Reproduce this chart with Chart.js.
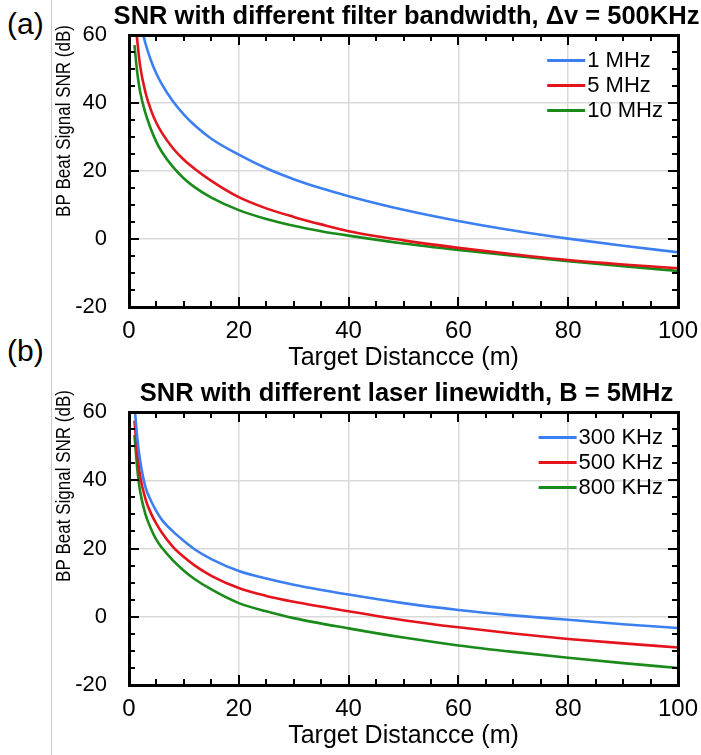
<!DOCTYPE html>
<html>
<head>
<meta charset="utf-8">
<script src="https://cdn.jsdelivr.net/npm/chart.js@4.4.1/dist/chart.umd.min.js"></script>
<style>
  html, body { margin: 0; padding: 0; background: #fff; }
  #wrap { position: relative; width: 701px; height: 755px; overflow: hidden; font-family: "Liberation Sans", Arial, sans-serif; }
  .vline { position: absolute; left: 51px; top: 0; width: 1px; height: 755px; background: #c9c9c9; }
  .panel { position: absolute; left: 7px; font-size: 30px; line-height: 1; color: #000; }
  canvas { position: absolute; left: 0; }
</style>
</head>
<body>
<div id="wrap">
  <div class="vline"></div>
  <div class="panel" style="top:9px">(a)</div>
  <div class="panel" style="top:336px">(b)</div>
  <canvas id="chartA" width="701" height="377" style="top:0"></canvas>
  <canvas id="chartB" width="701" height="378" style="top:377px"></canvas>
</div>
<script>
// ===============================
// DATOS (a): ancho de banda del filtro, Δv = 500KHz
// ===============================
const distA1  = [2.6, 3, 4, 5, 6, 8, 10, 12, 15, 20, 25, 30, 35, 40, 50, 60, 70, 80, 90, 100];
const snrA1   = [60, 57.5, 52.5, 48.6, 45.5, 40.5, 36.6, 33.4, 29.5, 24.8, 20.8, 17.6, 14.9, 12.6, 8.6, 5.3, 2.5, 0.1, -2.0, -3.9];
const distA5  = [1.4, 2, 3, 4, 5, 6, 8, 10, 12, 15, 20, 25, 30, 35, 40, 50, 60, 70, 80, 90, 100];
const snrA5   = [60, 51.2, 43.1, 37.9, 34.1, 31.2, 26.7, 23.3, 20.6, 17.1, 12.3, 9.0, 6.5, 4.3, 2.3, -0.4, -2.6, -4.5, -6.2, -7.5, -8.6];
const distA10 = [1, 1.5, 2, 3, 4, 5, 6, 8, 10, 12, 15, 20, 25, 30, 35, 40, 50, 60, 70, 80, 90, 100];
const snrA10  = [57, 49, 43.5, 37, 32.3, 28.5, 25.6, 21.2, 17.8, 15.2, 12.2, 8.5, 5.9, 3.9, 2.3, 1.0, -1.3, -3.2, -4.9, -6.5, -8.0, -9.4];

// ===============================
// DATOS (b): ancho de línea del láser, B = 5MHz
// ===============================
const distB300 = [1.1, 1.5, 2, 3, 4, 5, 6, 8, 10, 12, 15, 20, 25, 30, 40, 50, 60, 70, 80, 90, 100];
const snrB300  = [60, 52.5, 46, 38, 34, 30.9, 28.4, 25, 22.2, 19.7, 16.9, 13.4, 11.2, 9.4, 6.5, 4.0, 2.0, 0.4, -0.9, -2.2, -3.3];
const distB500 = [1, 1.5, 2, 3, 4, 5, 6, 8, 10, 12, 15, 20, 25, 30, 40, 50, 60, 70, 80, 90, 100];
const snrB500  = [57.5, 48, 41.5, 34.5, 30.3, 27.2, 24.6, 20.5, 17.5, 15, 12, 8.4, 6.1, 4.4, 1.6, -1.0, -3.1, -4.9, -6.5, -7.8, -9.0];
const distB800 = [1, 1.5, 2, 3, 4, 5, 6, 8, 10, 12, 15, 20, 25, 30, 40, 50, 60, 70, 80, 90, 100];
const snrB800  = [53.3, 43.5, 37, 30, 25.8, 22.5, 20.2, 16.5, 13.5, 11, 8, 4.0, 1.6, -0.4, -3.4, -6.1, -8.4, -10.3, -12, -13.6, -15];

const nombresA = ["1 MHz", "5 MHz", "10 MHz"];
const nombresB = ["300 KHz", "500 KHz", "800 KHz"];
const colores = ["#3b7ff0", "#e3141c", "#1a8a1a"];

const xMin = 0, xMax = 100, xPaso = 20, xMenor = 5;
const yMin = -20, yMax = 60, yPaso = 20, yMenor = 5;

const FUENTE = '"Liberation Sans", Arial, sans-serif';

// ===============================
// PLUGIN: ticks hacia dentro, leyenda y textos
// ===============================
const marco = {
  id: "marco",
  afterDraw(chart) {
    const ctx = chart.ctx;
    const a = chart.chartArea;
    const opts = chart.config.options.extra;
    const sx = chart.scales.x, sy = chart.scales.y;
    const L = Math.round(a.left), R = Math.round(a.right), T = Math.round(a.top), B = Math.round(a.bottom);

    ctx.save();
    ctx.fillStyle = "#000";
    // ticks hacia dentro en los 4 lados
    for (let v = xMin; v <= xMax; v += xMenor) {
      const px = Math.round(sx.getPixelForValue(v));
      const len = v % xPaso === 0 ? 10 : 6;
      ctx.fillRect(px - 1, B - len, 2, len);
      ctx.fillRect(px - 1, T, 2, len);
    }
    for (let v = yMin; v <= yMax; v += yMenor) {
      const py = Math.round(sy.getPixelForValue(v));
      const len = v % yPaso === 0 ? 10 : 6;
      ctx.fillRect(L, py - 1, len, 2);
      ctx.fillRect(R - len, py - 1, len, 2);
    }
    // marco (3px)
    ctx.fillRect(L - 1, T - 1, R - L + 3, 3);
    ctx.fillRect(L - 1, B - 1, R - L + 3, 3);
    ctx.fillRect(L - 1, T - 1, 3, B - T + 3);
    ctx.fillRect(R - 1, T - 1, 3, B - T + 3);

    // leyenda dentro del área
    ctx.font = "22px " + FUENTE;
    ctx.textBaseline = "middle";
    ctx.textAlign = "left";
    const anchoMax = Math.max(...chart.data.datasets.map(d => ctx.measureText(d.label).width));
    const tx = 663 - anchoMax;
    chart.data.datasets.forEach((d, i) => {
      const ly = T + 25 + i * 25;
      ctx.fillStyle = d.borderColor;
      ctx.fillRect(tx - 40, ly - 1, 38, 3);
      ctx.fillStyle = "#000";
      ctx.fillText(d.label, tx, ly + 1);
    });

    // título
    ctx.fillStyle = "#000";
    ctx.textAlign = "center";
    ctx.font = "bold 25.5px " + FUENTE;
    ctx.fillText(opts.titulo, (a.left + a.right) / 2 + 3, 17);

    // título eje x
    ctx.font = "25px " + FUENTE;
    ctx.fillText("Target Distancce (m)", (a.left + a.right) / 2, a.bottom + 51);

    // título eje y (letra algo estrecha, como en la figura)
    ctx.translate(64, a.top + opts.yTituloCentro);
    ctx.rotate(-Math.PI / 2);
    ctx.scale(0.85, 1);
    ctx.font = "20px " + FUENTE;
    ctx.fillText("BP Beat Signal SNR (dB)", 0, 0);
    ctx.restore();
  }
};

// ejes auxiliares arriba y a la derecha: solo dibujan el borde del marco
function ejeMarco(pos, min, max) {
  return {
    type: "linear", position: pos, min: min, max: max,
    ticks: { display: false },
    grid: { drawOnChartArea: false, drawTicks: false },
    border: { display: true, color: "#000", width: 3 },
    afterFit: s => {
      if (pos === "top") s.height = 0; else s.width = 0;
      s.paddingLeft = 0; s.paddingRight = 0; s.paddingTop = 0; s.paddingBottom = 0;
    }
  };
}

function crearGrafica(id, series, nombres, extra) {
  return new Chart(document.getElementById(id), {
    type: "line",
    data: {
      datasets: series.map((s, i) => ({
        label: nombres[i],
        data: s[0].map((d, k) => ({ x: d, y: s[1][k] })),
        borderColor: colores[i],
        borderWidth: 2.6,
        pointRadius: 0,
        cubicInterpolationMode: "monotone",
        fill: false
      }))
    },
    options: {
      extra: extra,
      responsive: false,
      animation: false,
      layout: { padding: { top: 35, right: 23, left: 0, bottom: 0 } },
      plugins: { legend: { display: false }, tooltip: { enabled: false } },
      scales: {
        x: {
          type: "linear", min: xMin, max: xMax,
          ticks: { stepSize: xPaso, color: "#000", font: { family: FUENTE, size: 24 }, padding: 10, maxRotation: 0 },
          grid: { color: "#d9d9d9", lineWidth: 1.5, drawTicks: false },
          border: { display: true, color: "#000", width: 3 },
          afterFit: s => { s.height = 70; s.paddingLeft = 0; s.paddingRight = 0; }
        },
        y: {
          min: yMin, max: yMax,
          ticks: { stepSize: yPaso, color: "#000", font: { family: FUENTE, size: 22 }, padding: 22 },
          grid: { color: "#d9d9d9", lineWidth: 1.5, drawTicks: false },
          border: { display: true, color: "#000", width: 3 },
          afterFit: s => { s.width = 129; s.paddingTop = 0; s.paddingBottom = 0; }
        },
        xArriba: ejeMarco("top", xMin, xMax),
        yDerecha: ejeMarco("right", yMin, yMax)
      }
    },
    plugins: [marco]
  });
}

crearGrafica("chartA",
  [[distA1, snrA1], [distA5, snrA5], [distA10, snrA10]],
  nombresA,
  { titulo: "SNR with different filter bandwidth, Δv = 500KHz", yTituloCentro: 86 });

crearGrafica("chartB",
  [[distB300, snrB300], [distB500, snrB500], [distB800, snrB800]],
  nombresB,
  { titulo: "SNR with different laser linewidth, B = 5MHz", yTituloCentro: 74 });
</script>
</body>
</html>
